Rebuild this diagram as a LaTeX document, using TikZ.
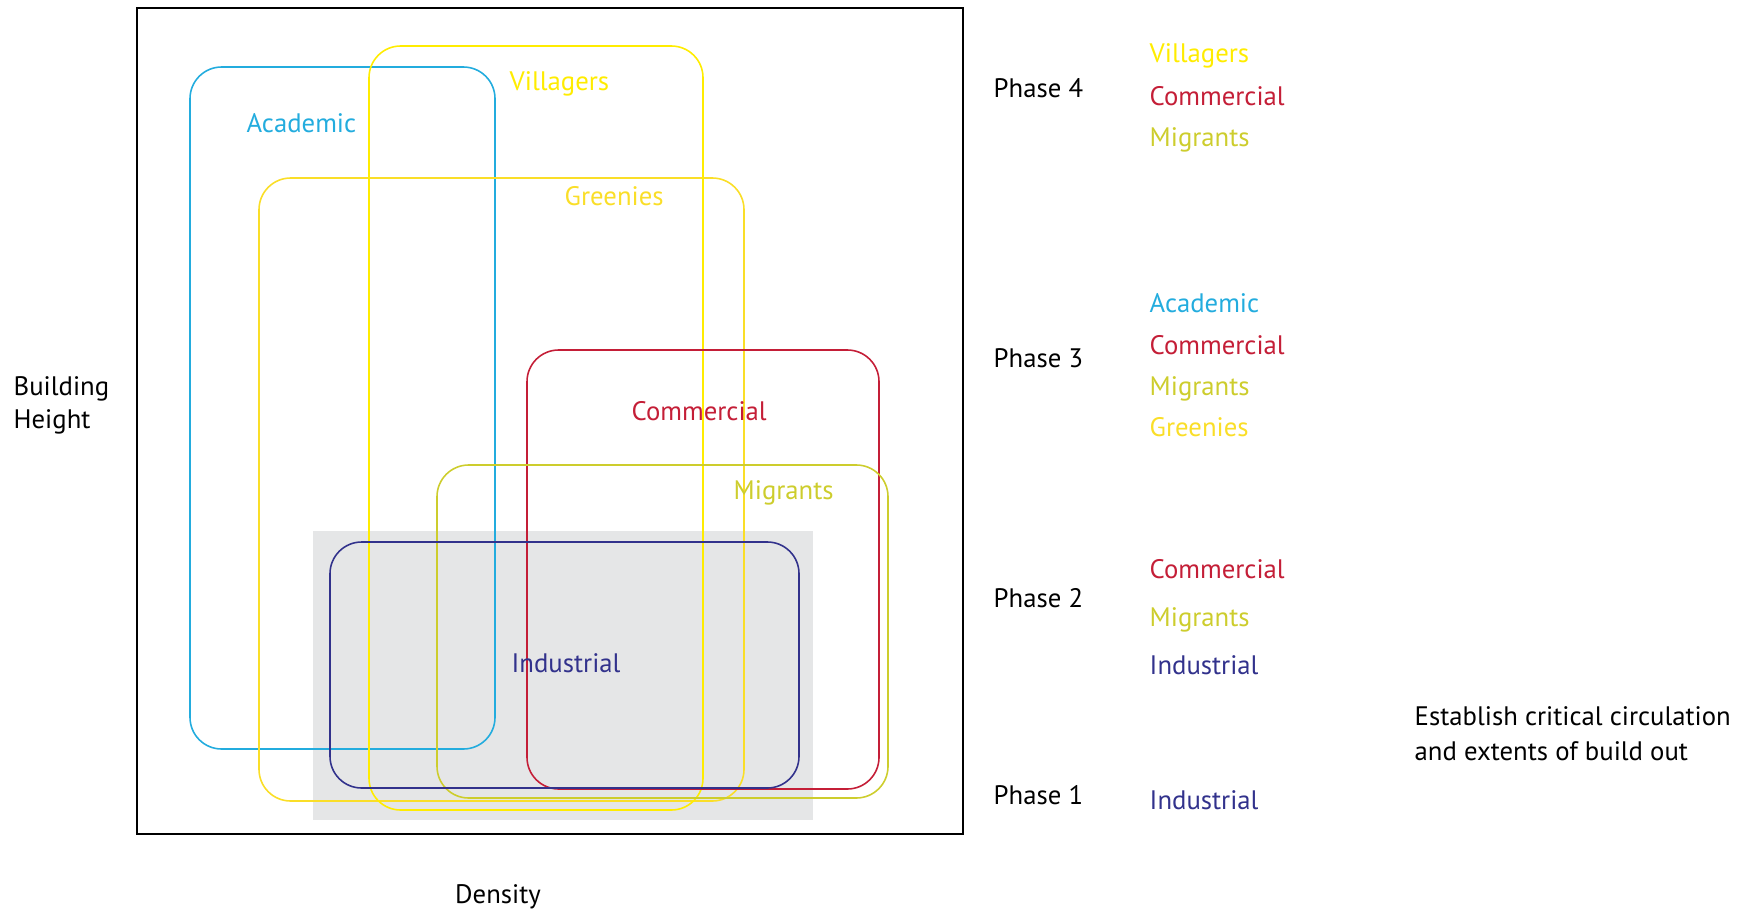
\documentclass[tikz,border=0pt]{standalone}
\usepackage{fontspec}
\setmainfont{PT Sans}
\usepackage{tikz}
\usetikzlibrary{positioning}
\definecolor{mycyan}{RGB}{35,172,222}
\definecolor{myyellow}{RGB}{255,236,0}
\definecolor{mygold}{RGB}{250,222,40}
\definecolor{myolive}{RGB}{205,205,45}
\definecolor{myred}{RGB}{196,30,55}
\definecolor{mynavy}{RGB}{50,50,140}
\definecolor{mygray}{RGB}{229,230,231}
\tikzset{
  region/.style={rounded corners=9pt, line width=0.45pt},
  lbl/.style={anchor=west, inner sep=0pt, text height=1.55ex, text depth=0pt,
    yshift=0.4mm, font=\fontsize{7.6}{9}\selectfont},
  phase/.style={lbl, text=black}
}

\begin{document}
\begin{tikzpicture}[x=0.01cm, y=-0.01cm]
  \useasboundingbox (0,0) rectangle (1743,912);

  % Phase 1 extent (grey)
  \fill[mygray] (313,531) rectangle (813,820);

  % Outer frame
  \draw[line width=0.6pt] (137,8) rectangle (963,834);

  % Stakeholder regions
  \draw[region, mycyan] (190,67) rectangle (495,749);
  \draw[region, mygold] (259,178) rectangle (744,801);
  \draw[region, myyellow] (369,46) rectangle (703,810);
  \draw[region, myred] (527,350) rectangle (879,789);
  \draw[region, myolive] (437,465) rectangle (888,798);
  \draw[region, mynavy] (330,542) rectangle (799,788);

  % Region labels
  \node[lbl, text=mycyan] (lab_acad) at (246,123) {Academic};
  \node[lbl, text=myyellow] (lab_vill) at (509,81) {Villagers};
  \node[lbl, text=mygold] (lab_green) at (564,196) {Greenies};
  \node[lbl, text=myred] (lab_comm) at (631,411) {Commercial};
  \node[lbl, text=myolive] (lab_migr) at (733,490) {Migrants};
  \node[lbl, text=mynavy] (lab_ind) at (511,663) {Industrial};

  % Axes
  \node[anchor=west, inner sep=0pt, align=left, font=\fontsize{7.6}{9.4}\selectfont] (ax_height) at (13,405) {Building\\Height};
  \node[lbl, anchor=center] (ax_density) at (498,894) {Density};

  % Phases
  \node[phase] (ph4) at (993,88) {Phase 4};
  \node[phase] (ph3) at (993,358) {Phase 3};
  \node[phase] (ph2) at (993,598) {Phase 2};
  \node[phase] (ph1) at (993,795) {Phase 1};

  % Phase 4 groups
  \node[lbl, text=myyellow] (p4_vill) at (1149,53) {Villagers};
  \node[lbl, text=myred] (p4_comm) at (1149,96) {Commercial};
  \node[lbl, text=myolive] (p4_migr) at (1149,137) {Migrants};

  % Phase 3 groups
  \node[lbl, text=mycyan] (p3_acad) at (1149,303) {Academic};
  \node[lbl, text=myred] (p3_comm) at (1149,345) {Commercial};
  \node[lbl, text=myolive] (p3_migr) at (1149,386) {Migrants};
  \node[lbl, text=mygold] (p3_green) at (1149,427) {Greenies};

  % Phase 2 groups
  \node[lbl, text=myred] (p2_comm) at (1149,569) {Commercial};
  \node[lbl, text=myolive] (p2_migr) at (1149,617) {Migrants};
  \node[lbl, text=mynavy] (p2_ind) at (1149,665) {Industrial};

  % Phase 1 groups
  \node[lbl, text=mynavy] (p1_ind) at (1149,800) {Industrial};

  % Note
  \node[anchor=west, inner sep=0pt, align=left, font=\fontsize{7.6}{10}\selectfont] (note) at (1414,734) {Establish critical circulation\\and extents of build out};
\end{tikzpicture}
\end{document}
